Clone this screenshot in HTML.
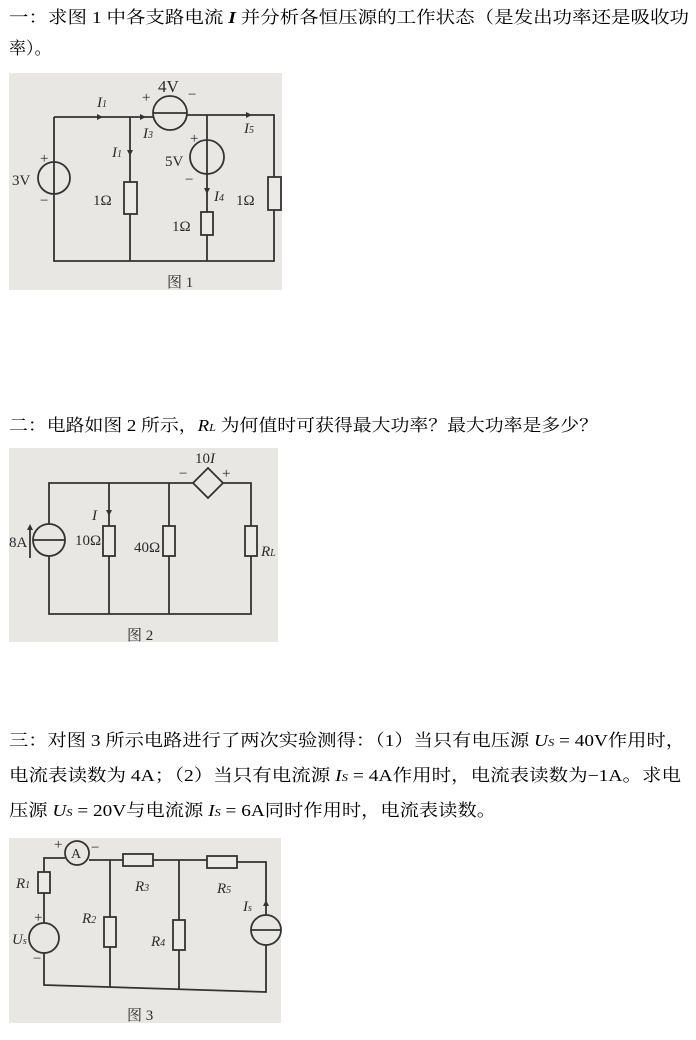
<!DOCTYPE html>
<html><head><meta charset="utf-8"><style>
body{margin:0;background:#fff;width:696px;height:1040px;overflow:hidden}
svg{display:block}
.t{font-family:"Liberation Serif","Noto Serif CJK SC",serif;font-size:17px;fill:#000}
.c{font-family:"Liberation Serif","Noto Serif CJK SC",serif;fill:#2a2a2a}
.w{stroke:#333;stroke-width:1.8;fill:none}
.r{stroke:#333;stroke-width:1.8;fill:#eceae6}
</style></head><body>
<svg width="696" height="1040" viewBox="0 0 696 1040">
<text class="t" x="9" y="23" textLength="680" lengthAdjust="spacingAndGlyphs">一：求图 1 中各支路电流 <tspan font-style="italic" font-weight="bold">I</tspan> 并分析各恒压源的工作状态（是发出功率还是吸收功</text>
<text class="t" x="9" y="54">率）。</text>

<rect x="9" y="73" width="273" height="217" fill="#e8e7e3"/>
<g class="w">
<path d="M54 117 H153 M187 115 H274 V177 M274 210 V261 H54 V194 M54 162 V117"/>
<path d="M130 117 V182 M130 214 V261"/>
<path d="M207 115 V140 M207 174 V212 M207 235 V261"/>
<circle cx="170" cy="113" r="17"/>
<circle cx="207" cy="157" r="17"/>
<circle cx="54" cy="178" r="16"/>
<line x1="153" y1="113" x2="187" y2="113"/>
<line x1="207" y1="140" x2="207" y2="174"/>
<line x1="54" y1="162" x2="54" y2="194"/>
</g>
<rect class="r" x="124" y="182" width="13" height="32"/>
<rect class="r" x="201" y="212" width="12" height="23"/>
<rect class="r" x="268" y="177" width="13" height="33"/>
<g fill="#333"><path d="M97 114 l6 3 -6 3z M140 114 l6 3 -6 3z M246 112 l6 3 -6 3z M127 150 l3 6 3 -6z M204 188 l3 6 3 -6z"/></g>
<g class="c" font-size="15">
<text x="158" y="92" font-size="17">4V</text><text x="142" y="102">+</text><text x="188" y="99">−</text>
<text x="97" y="107" font-style="italic">I<tspan font-size="10">1</tspan></text>
<text x="143" y="138" font-style="italic">I<tspan font-size="10">3</tspan></text>
<text x="112" y="157" font-style="italic">I<tspan font-size="10">1</tspan></text>
<text x="244" y="133" font-style="italic">I<tspan font-size="10">5</tspan></text>
<text x="214" y="201" font-style="italic">I<tspan font-size="10">4</tspan></text>
<text x="190" y="143">+</text><text x="165" y="166">5V</text><text x="185" y="184">−</text>
<text x="40" y="163">+</text><text x="12" y="185">3V</text><text x="40" y="205">−</text>
<text x="93" y="205">1Ω</text><text x="236" y="205">1Ω</text><text x="172" y="231">1Ω</text>
<text x="167" y="287">图 1</text>
</g>

<text class="t" x="9" y="431" textLength="589" lengthAdjust="spacingAndGlyphs">二：电路如图 2 所示，<tspan font-style="italic">R<tspan font-size="11">L</tspan></tspan> 为何值时可获得最大功率？最大功率是多少？</text>

<rect x="9" y="448" width="269" height="194" fill="#e8e7e3"/>
<g class="w">
<path d="M49 524 V483 H193 M223 483 H251 V526 M251 556 V614 H49 V556"/>
<path d="M109 483 V526 M109 556 V614 M169 483 V526 M169 556 V614"/>
<circle cx="49" cy="540" r="16"/>
<line x1="33" y1="540" x2="65" y2="540"/>
<path d="M208 468 L223 483 L208 498 L193 483Z"/>
<line x1="30" y1="558" x2="30" y2="526"/>
</g>
<path d="M27 530 l3 -6 3 6z M106 510 l3 6 3 -6z" fill="#333"/>
<rect class="r" x="103" y="526" width="12" height="30"/>
<rect class="r" x="163" y="526" width="12" height="30"/>
<rect class="r" x="245" y="526" width="12" height="30"/>
<g class="c" font-size="15">
<text x="195" y="463">10<tspan font-style="italic">I</tspan></text>
<text x="179" y="478">−</text><text x="222" y="478">+</text>
<text x="9" y="547">8A</text>
<text x="92" y="520" font-style="italic">I</text>
<text x="75" y="545">10Ω</text><text x="134" y="552">40Ω</text>
<text x="261" y="556" font-style="italic">R<tspan font-size="10">L</tspan></text>
<text x="127" y="640">图 2</text>
</g>

<text class="t" x="9" y="746" textLength="676" lengthAdjust="spacingAndGlyphs">三：对图 3 所示电路进行了两次实验测得：（1）当只有电压源 <tspan font-style="italic">U<tspan font-size="11">S</tspan></tspan> = 40V作用时，</text>
<text class="t" x="9" y="781" textLength="672" lengthAdjust="spacingAndGlyphs">电流表读数为 4A；（2）当只有电流源 <tspan font-style="italic">I<tspan font-size="11">S</tspan></tspan> = 4A作用时，电流表读数为−1A。求电</text>
<text class="t" x="9" y="816" textLength="487" lengthAdjust="spacingAndGlyphs">压源 <tspan font-style="italic">U<tspan font-size="11">S</tspan></tspan> = 20V与电流源 <tspan font-style="italic">I<tspan font-size="11">S</tspan></tspan> = 6A同时作用时，电流表读数。</text>

<rect x="9" y="838" width="272" height="185" fill="#e8e7e3"/>
<g class="w">
<path d="M44 872 V858 H65 M89 860 H123 M153 860 H207 M237 862 H266 V915 M266 945 V992 L44 985 V953 M44 923 V893"/>
<path d="M110 860 V917 M110 947 V987 M179 860 V920 M179 950 V990"/>
<circle cx="77" cy="853" r="12"/>
<circle cx="44" cy="938" r="15"/>
<circle cx="266" cy="930" r="15"/>
<line x1="251" y1="930" x2="281" y2="930"/>
</g>
<path d="M263 906 l3 -6 3 6z" fill="#333"/>
<rect class="r" x="38" y="872" width="12" height="21"/>
<rect class="r" x="104" y="917" width="12" height="30"/>
<rect class="r" x="123" y="854" width="30" height="12"/>
<rect class="r" x="173" y="920" width="12" height="30"/>
<rect class="r" x="207" y="856" width="30" height="12"/>
<g class="c" font-size="15">
<text x="71" y="858" font-size="14">A</text>
<text x="54" y="849">+</text><text x="91" y="852">−</text>
<text x="16" y="888" font-style="italic">R<tspan font-size="10">1</tspan></text>
<text x="135" y="891" font-style="italic">R<tspan font-size="10">3</tspan></text>
<text x="217" y="893" font-style="italic">R<tspan font-size="10">5</tspan></text>
<text x="82" y="923" font-style="italic">R<tspan font-size="10">2</tspan></text>
<text x="151" y="946" font-style="italic">R<tspan font-size="10">4</tspan></text>
<text x="243" y="911" font-style="italic">I<tspan font-size="10">s</tspan></text>
<text x="34" y="922">+</text><text x="12" y="944" font-style="italic">U<tspan font-size="10">s</tspan></text><text x="33" y="963">−</text>
<text x="127" y="1020">图 3</text>
</g>
</svg>
</body></html>
